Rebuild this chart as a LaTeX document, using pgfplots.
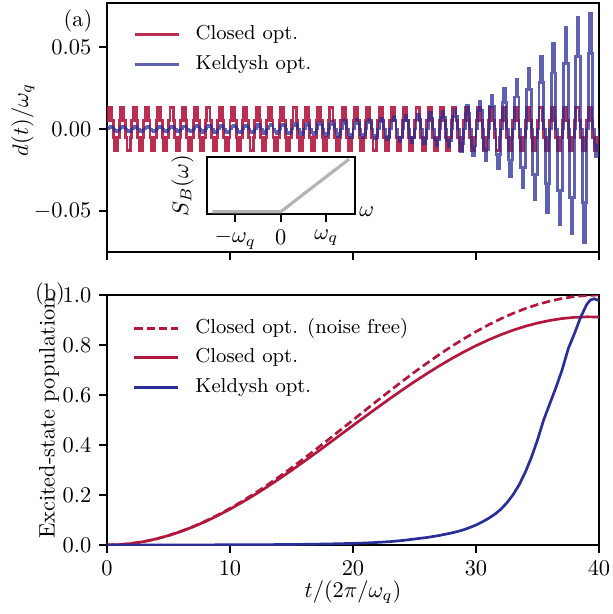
\documentclass[border=0pt]{standalone}
\usepackage{pgfplots}
\pgfplotsset{compat=1.18}
\definecolor{cred}{RGB}{178,24,62}
\definecolor{cblue}{RGB}{42,46,150}
\definecolor{cgray}{RGB}{180,180,180}
\pgfplotsset{
 mystyle/.style={
  scale only axis,
  axis line style={line width=0.8pt},
  tick align=outside,
  tick pos=left,
  major tick length=3.5pt,
  tick style={black, line width=0.8pt},
 },
 mylegend/.style={
  legend cell align=left,
  legend image code/.code={\draw[##1] (0pt,0pt) -- (19.6pt,0pt);},
  legend style={at={(axis description cs:0.0386,#1)}, anchor=north west, draw=none, fill=none,
    font=\fontsize{9}{11}\selectfont, row sep=4.7pt,
    nodes={inner sep=0pt, text height=6.5pt, text depth=2pt},
    /tikz/every odd column/.append style={column sep=7pt}},
 },
}
\begin{document}
\begin{tikzpicture}
\useasboundingbox (0,0) rectangle (273.64pt,-274.09pt);
% ---------------- panel (a)
\begin{axis}[mystyle, mylegend=0.93, at={(47.76pt,-112.49pt)}, anchor=south west,
  width=219.63pt, height=111.15pt, xmin=0, xmax=40, ymin=-0.075, ymax=0.0768,
  xtick={0,10,20,30,40}, xticklabels={},
  ytick={-0.05,0,0.05}, yticklabels={$-0.05$,$0.00$,$0.05$},
  ylabel={$d(t)/\omega_q$}, ylabel style={at={(axis description cs:-0.171,0.53)}, anchor=center}]
\addplot[const plot mark left, cred, line width=1.3pt, opacity=0.9] coordinates {
(0,0.0054)(0.125,0.0129)(0.25,0.0129)(0.375,0.0054)(0.5,-0.0054)(0.625,-0.0129)(0.75,-0.0129)(0.875,-0.0054)
(1,0.0054)(1.125,0.0129)(1.25,0.0129)(1.375,0.0054)(1.5,-0.0054)(1.625,-0.0129)(1.75,-0.0129)(1.875,-0.0054)
(2,0.0054)(2.125,0.0129)(2.25,0.0129)(2.375,0.0054)(2.5,-0.0054)(2.625,-0.0129)(2.75,-0.0129)(2.875,-0.0054)
(3,0.0054)(3.125,0.0129)(3.25,0.0129)(3.375,0.0054)(3.5,-0.0054)(3.625,-0.0129)(3.75,-0.0129)(3.875,-0.0054)
(4,0.0054)(4.125,0.0129)(4.25,0.0129)(4.375,0.0054)(4.5,-0.0054)(4.625,-0.0129)(4.75,-0.0129)(4.875,-0.0054)
(5,0.0054)(5.125,0.0129)(5.25,0.0129)(5.375,0.0054)(5.5,-0.0054)(5.625,-0.0129)(5.75,-0.0129)(5.875,-0.0054)
(6,0.0054)(6.125,0.0129)(6.25,0.0129)(6.375,0.0054)(6.5,-0.0054)(6.625,-0.0129)(6.75,-0.0129)(6.875,-0.0054)
(7,0.0054)(7.125,0.0129)(7.25,0.0129)(7.375,0.0054)(7.5,-0.0054)(7.625,-0.0129)(7.75,-0.0129)(7.875,-0.0054)
(8,0.0054)(8.125,0.0129)(8.25,0.0129)(8.375,0.0054)(8.5,-0.0054)(8.625,-0.0129)(8.75,-0.0129)(8.875,-0.0054)
(9,0.0054)(9.125,0.0129)(9.25,0.0129)(9.375,0.0054)(9.5,-0.0054)(9.625,-0.0129)(9.75,-0.0129)(9.875,-0.0054)
(10,0.0054)(10.125,0.0129)(10.25,0.0129)(10.375,0.0054)(10.5,-0.0054)(10.625,-0.0129)(10.75,-0.0129)(10.875,-0.0054)
(11,0.0054)(11.125,0.0129)(11.25,0.0129)(11.375,0.0054)(11.5,-0.0054)(11.625,-0.0129)(11.75,-0.0129)(11.875,-0.0054)
(12,0.0054)(12.125,0.0129)(12.25,0.0129)(12.375,0.0054)(12.5,-0.0054)(12.625,-0.0129)(12.75,-0.0129)(12.875,-0.0054)
(13,0.0054)(13.125,0.0129)(13.25,0.0129)(13.375,0.0054)(13.5,-0.0054)(13.625,-0.0129)(13.75,-0.0129)(13.875,-0.0054)
(14,0.0054)(14.125,0.0129)(14.25,0.0129)(14.375,0.0054)(14.5,-0.0054)(14.625,-0.0129)(14.75,-0.0129)(14.875,-0.0054)
(15,0.0054)(15.125,0.0129)(15.25,0.0129)(15.375,0.0054)(15.5,-0.0054)(15.625,-0.0129)(15.75,-0.0129)(15.875,-0.0054)
(16,0.0054)(16.125,0.0129)(16.25,0.0129)(16.375,0.0054)(16.5,-0.0054)(16.625,-0.0129)(16.75,-0.0129)(16.875,-0.0054)
(17,0.0054)(17.125,0.0129)(17.25,0.0129)(17.375,0.0054)(17.5,-0.0054)(17.625,-0.0129)(17.75,-0.0129)(17.875,-0.0054)
(18,0.0054)(18.125,0.0129)(18.25,0.0129)(18.375,0.0054)(18.5,-0.0054)(18.625,-0.0129)(18.75,-0.0129)(18.875,-0.0054)
(19,0.0054)(19.125,0.0129)(19.25,0.0129)(19.375,0.0054)(19.5,-0.0054)(19.625,-0.0129)(19.75,-0.0129)(19.875,-0.0054)
(20,0.0054)(20.125,0.0129)(20.25,0.0129)(20.375,0.0054)(20.5,-0.0054)(20.625,-0.0129)(20.75,-0.0129)(20.875,-0.0054)
(21,0.0054)(21.125,0.0129)(21.25,0.0129)(21.375,0.0054)(21.5,-0.0054)(21.625,-0.0129)(21.75,-0.0129)(21.875,-0.0054)
(22,0.0054)(22.125,0.0129)(22.25,0.0129)(22.375,0.0054)(22.5,-0.0054)(22.625,-0.0129)(22.75,-0.0129)(22.875,-0.0054)
(23,0.0054)(23.125,0.0129)(23.25,0.0129)(23.375,0.0054)(23.5,-0.0054)(23.625,-0.0129)(23.75,-0.0129)(23.875,-0.0054)
(24,0.0054)(24.125,0.0129)(24.25,0.0129)(24.375,0.0054)(24.5,-0.0054)(24.625,-0.0129)(24.75,-0.0129)(24.875,-0.0054)
(25,0.0054)(25.125,0.0129)(25.25,0.0129)(25.375,0.0054)(25.5,-0.0054)(25.625,-0.0129)(25.75,-0.0129)(25.875,-0.0054)
(26,0.0054)(26.125,0.0129)(26.25,0.0129)(26.375,0.0054)(26.5,-0.0054)(26.625,-0.0129)(26.75,-0.0129)(26.875,-0.0054)
(27,0.0054)(27.125,0.0129)(27.25,0.0129)(27.375,0.0054)(27.5,-0.0054)(27.625,-0.0129)(27.75,-0.0129)(27.875,-0.0054)
(28,0.0054)(28.125,0.0129)(28.25,0.0129)(28.375,0.0054)(28.5,-0.0054)(28.625,-0.0129)(28.75,-0.0129)(28.875,-0.0054)
(29,0.0054)(29.125,0.0129)(29.25,0.0129)(29.375,0.0054)(29.5,-0.0054)(29.625,-0.0129)(29.75,-0.0129)(29.875,-0.0054)
(30,0.0054)(30.125,0.0129)(30.25,0.0129)(30.375,0.0054)(30.5,-0.0054)(30.625,-0.0129)(30.75,-0.0129)(30.875,-0.0054)
(31,0.0054)(31.125,0.0129)(31.25,0.0129)(31.375,0.0054)(31.5,-0.0054)(31.625,-0.0129)(31.75,-0.0129)(31.875,-0.0054)
(32,0.0054)(32.125,0.0129)(32.25,0.0129)(32.375,0.0054)(32.5,-0.0054)(32.625,-0.0129)(32.75,-0.0129)(32.875,-0.0054)
(33,0.0054)(33.125,0.0129)(33.25,0.0129)(33.375,0.0054)(33.5,-0.0054)(33.625,-0.0129)(33.75,-0.0129)(33.875,-0.0054)
(34,0.0054)(34.125,0.0129)(34.25,0.0129)(34.375,0.0054)(34.5,-0.0054)(34.625,-0.0129)(34.75,-0.0129)(34.875,-0.0054)
(35,0.0054)(35.125,0.0129)(35.25,0.0129)(35.375,0.0054)(35.5,-0.0054)(35.625,-0.0129)(35.75,-0.0129)(35.875,-0.0054)
(36,0.0054)(36.125,0.0129)(36.25,0.0129)(36.375,0.0054)(36.5,-0.0054)(36.625,-0.0129)(36.75,-0.0129)(36.875,-0.0054)
(37,0.0054)(37.125,0.0129)(37.25,0.0129)(37.375,0.0054)(37.5,-0.0054)(37.625,-0.0129)(37.75,-0.0129)(37.875,-0.0054)
(38,0.0054)(38.125,0.0129)(38.25,0.0129)(38.375,0.0054)(38.5,-0.0054)(38.625,-0.0129)(38.75,-0.0129)(38.875,-0.0054)
(39,0.0054)(39.125,0.0129)(39.25,0.0129)(39.375,0.0054)(39.5,-0.0054)(39.625,-0.0129)(39.75,-0.0129)(39.875,-0.0054)
(40,0)};
\addlegendentry{Closed opt.}
\addplot[const plot mark left, cblue, line width=1.3pt, opacity=0.75] coordinates {
(0,0)(0.125,0.0010)(0.25,0.0015)(0.375,0.0010)(0.5,0)(0.625,-0.0010)(0.75,-0.0015)(0.875,-0.0010)
(1,0)(1.125,0.0010)(1.25,0.0015)(1.375,0.0010)(1.5,0)(1.625,-0.0010)(1.75,-0.0015)(1.875,-0.0010)
(2,0)(2.125,0.0010)(2.25,0.0015)(2.375,0.0010)(2.5,0)(2.625,-0.0010)(2.75,-0.0015)(2.875,-0.0010)
(3,0)(3.125,0.0010)(3.25,0.0016)(3.375,0.0010)(3.5,0)(3.625,-0.0010)(3.75,-0.0016)(3.875,-0.0010)
(4,0)(4.125,0.0010)(4.25,0.0016)(4.375,0.0010)(4.5,0)(4.625,-0.0010)(4.75,-0.0016)(4.875,-0.0010)
(5,0)(5.125,0.0011)(5.25,0.0017)(5.375,0.0011)(5.5,0)(5.625,-0.0011)(5.75,-0.0017)(5.875,-0.0011)
(6,0)(6.125,0.0012)(6.25,0.0018)(6.375,0.0012)(6.5,0)(6.625,-0.0012)(6.75,-0.0018)(6.875,-0.0012)
(7,0)(7.125,0.0012)(7.25,0.0019)(7.375,0.0012)(7.5,0)(7.625,-0.0012)(7.75,-0.0019)(7.875,-0.0012)
(8,0)(8.125,0.0013)(8.25,0.0020)(8.375,0.0013)(8.5,0)(8.625,-0.0013)(8.75,-0.0020)(8.875,-0.0013)
(9,0)(9.125,0.0014)(9.25,0.0021)(9.375,0.0014)(9.5,0)(9.625,-0.0014)(9.75,-0.0021)(9.875,-0.0014)
(10,0)(10.125,0.0014)(10.25,0.0022)(10.375,0.0014)(10.5,0)(10.625,-0.0014)(10.75,-0.0022)(10.875,-0.0014)
(11,0)(11.125,0.0016)(11.25,0.0024)(11.375,0.0016)(11.5,0)(11.625,-0.0016)(11.75,-0.0024)(11.875,-0.0016)
(12,0)(12.125,0.0017)(12.25,0.0026)(12.375,0.0017)(12.5,0)(12.625,-0.0017)(12.75,-0.0026)(12.875,-0.0017)
(13,0)(13.125,0.0018)(13.25,0.0028)(13.375,0.0018)(13.5,0)(13.625,-0.0018)(13.75,-0.0028)(13.875,-0.0018)
(14,0)(14.125,0.0020)(14.25,0.0030)(14.375,0.0020)(14.5,0)(14.625,-0.0020)(14.75,-0.0030)(14.875,-0.0020)
(15,0)(15.125,0.0021)(15.25,0.0033)(15.375,0.0021)(15.5,0)(15.625,-0.0021)(15.75,-0.0033)(15.875,-0.0021)
(16,0)(16.125,0.0023)(16.25,0.0036)(16.375,0.0023)(16.5,0)(16.625,-0.0023)(16.75,-0.0036)(16.875,-0.0023)
(17,0)(17.125,0.0026)(17.25,0.0040)(17.375,0.0026)(17.5,0)(17.625,-0.0026)(17.75,-0.0040)(17.875,-0.0026)
(18,0)(18.125,0.0029)(18.25,0.0045)(18.375,0.0029)(18.5,0)(18.625,-0.0029)(18.75,-0.0045)(18.875,-0.0029)
(19,0)(19.125,0.0033)(19.25,0.0050)(19.375,0.0033)(19.5,0)(19.625,-0.0033)(19.75,-0.0050)(19.875,-0.0033)
(20,0)(20.125,0.0036)(20.25,0.0055)(20.375,0.0036)(20.5,0)(20.625,-0.0036)(20.75,-0.0055)(20.875,-0.0036)
(21,0)(21.125,0.0039)(21.25,0.0060)(21.375,0.0039)(21.5,0)(21.625,-0.0039)(21.75,-0.0060)(21.875,-0.0039)
(22,0)(22.125,0.0044)(22.25,0.0067)(22.375,0.0044)(22.5,0)(22.625,-0.0044)(22.75,-0.0067)(22.875,-0.0044)
(23,0)(23.125,0.0049)(23.25,0.0075)(23.375,0.0049)(23.5,0)(23.625,-0.0049)(23.75,-0.0075)(23.875,-0.0049)
(24,0)(24.125,0.0054)(24.25,0.0083)(24.375,0.0054)(24.5,0)(24.625,-0.0054)(24.75,-0.0083)(24.875,-0.0054)
(25,0)(25.125,0.0059)(25.25,0.0090)(25.375,0.0059)(25.5,0)(25.625,-0.0059)(25.75,-0.0090)(25.875,-0.0059)
(26,0)(26.125,0.0064)(26.25,0.0098)(26.375,0.0064)(26.5,0)(26.625,-0.0064)(26.75,-0.0098)(26.875,-0.0064)
(27,0)(27.125,0.0070)(27.25,0.0108)(27.375,0.0070)(27.5,0)(27.625,-0.0070)(27.75,-0.0108)(27.875,-0.0070)
(28,0)(28.125,0.0078)(28.25,0.0120)(28.375,0.0078)(28.5,0)(28.625,-0.0088)(28.75,-0.0135)(28.875,-0.0088)
(29,0)(29.125,0.0095)(29.25,0.0146)(29.375,0.0095)(29.5,0)(29.625,-0.0104)(29.75,-0.0160)(29.875,-0.0104)
(30,0)(30.125,0.0111)(30.25,0.0170)(30.375,0.0111)(30.5,0)(30.625,-0.0124)(30.75,-0.0190)(30.875,-0.0124)
(31,0)(31.125,0.0135)(31.25,0.0207)(31.375,0.0135)(31.5,0)(31.625,-0.0156)(31.75,-0.0240)(31.875,-0.0156)
(32,0)(32.125,0.0163)(32.25,0.0250)(32.375,0.0163)(32.5,0)(32.625,-0.0189)(32.75,-0.0290)(32.875,-0.0189)
(33,0)(33.125,0.0195)(33.25,0.0300)(33.375,0.0195)(33.5,0)(33.625,-0.0234)(33.75,-0.0360)(33.875,-0.0234)
(34,0)(34.125,0.0238)(34.25,0.0366)(34.375,0.0238)(34.5,0)(34.625,-0.0280)(34.75,-0.0430)(34.875,-0.0280)
(35,0)(35.125,0.0286)(35.25,0.0440)(35.375,0.0286)(35.5,0)(35.625,-0.0332)(35.75,-0.0510)(35.875,-0.0332)
(36,0)(36.125,0.0341)(36.25,0.0524)(36.375,0.0341)(36.5,0)(36.625,-0.0377)(36.75,-0.0580)(36.875,-0.0377)
(37,0)(37.125,0.0400)(37.25,0.0616)(37.375,0.0400)(37.5,0)(37.625,-0.0416)(37.75,-0.0640)(37.875,-0.0416)
(38,0)(38.125,0.0442)(38.25,0.0680)(38.375,0.0442)(38.5,0)(38.625,-0.0449)(38.75,-0.0690)(38.875,-0.0449)
(39,0)(39.125,0.0460)(39.25,0.0707)(39.375,0.0460)(39.5,0)(39.625,-0.0100)(39.75,-0.0170)(39.875,-0.0100)
(40,0)};
\addlegendentry{Keldysh opt.}
\end{axis}
% ---------------- inset
\begin{axis}[mystyle, at={(92.4pt,-95.53pt)}, anchor=south west,
  width=66.07pt, height=25.44pt, xmin=-1.62, xmax=1.63, ymin=-0.065, ymax=1.56,
  xtick={-1,0,1}, xticklabels={$-\omega_q$,$0$,$\omega_q$}, ytick=\empty,
  axis background/.style={fill=white},
  ylabel={$S_B(\omega)$}, ylabel style={at={(axis description cs:-0.166,0.5)}, anchor=center},
  xlabel={$\omega$}, xlabel style={at={(axis description cs:1.08,0.035)}, anchor=center}]
\addplot[cgray, line width=1.4pt] coordinates {(-1.5,0) (0,0) (1.5,1.5)};
\end{axis}
% ---------------- panel (b)
\begin{axis}[mystyle, mylegend=0.925, at={(47.76pt,-243.29pt)}, anchor=south west,
  width=219.63pt, height=111.6pt, xmin=0, xmax=40, ymin=0, ymax=1,
  xtick={0,10,20,30,40},
  ytick={0,0.2,0.4,0.6,0.8,1.0}, yticklabels={$0.0$,$0.2$,$0.4$,$0.6$,$0.8$,$1.0$},
  xlabel={$t/(2\pi/\omega_q)$}, xlabel style={at={(axis description cs:0.5,-0.188)}, anchor=center},
  ylabel={Excited-state population}, ylabel style={at={(axis description cs:-0.118,0.508)}, anchor=center}]
\addplot[cred, line width=1.2pt, dash pattern=on 3.7pt off 1.8pt] coordinates {
(0,0)(1,0.00154)(2,0.00616)(3,0.01382)(4,0.02447)(5,0.03806)(6,0.0545)(7,0.07368)(8,0.09549)(9,0.1198)
(10,0.14645)(11,0.17528)(12,0.2061)(13,0.23875)(14,0.273)(15,0.30866)(16,0.34549)(17,0.38327)(18,0.42178)(19,0.46077)
(20,0.5)(21,0.53923)(22,0.57822)(23,0.61673)(24,0.65451)(25,0.69134)(26,0.727)(27,0.76125)(28,0.7939)(29,0.82472)
(30,0.85355)(31,0.8802)(32,0.90451)(33,0.92632)(34,0.9455)(35,0.96194)(36,0.97553)(37,0.98618)(38,0.99384)(39,0.99846)(40,1.0)};
\addlegendentry{Closed opt. (noise free)}
\addplot[cred, line width=1.2pt] coordinates {
(0,0)(1,0.00154)(2,0.00613)(3,0.01373)(4,0.02425)(5,0.03764)(6,0.05378)(7,0.07255)(8,0.09381)(9,0.11743)
(10,0.14323)(11,0.17104)(12,0.20066)(13,0.23192)(14,0.26459)(15,0.29847)(16,0.33333)(17,0.36894)(18,0.40508)(19,0.44151)
(20,0.478)(21,0.51432)(22,0.55023)(23,0.58552)(24,0.61995)(25,0.65332)(26,0.68542)(27,0.71603)(28,0.745)(29,0.7721)
(30,0.79722)(31,0.82017)(32,0.84083)(33,0.85907)(34,0.87477)(35,0.88787)(36,0.89827)(37,0.90591)(38,0.91076)(39,0.91279)(40,0.912)};
\addlegendentry{Closed opt.}
\addplot[cblue, line width=1.2pt] coordinates {
(0,0)(5,0.0003)(10,0.0008)(12,0.0012)(14,0.0018)(16,0.0027)(18,0.0042)(20,0.0065)(21,0.008)(22,0.0105)
(23,0.0135)(24,0.018)(25,0.024)(26,0.03)(27,0.038)(28,0.048)(28.5,0.054)(29,0.061)(29.5,0.07)(30,0.08)
(30.5,0.092)(31,0.106)(31.5,0.122)(32,0.142)(32.5,0.168)(33,0.2)(33.5,0.24)(34,0.29)(34.5,0.35)(35,0.42)
(35.5,0.5)(36,0.565)(36.5,0.63)(37,0.7)(37.5,0.785)(38,0.845)(38.5,0.91)(39,0.962)(39.3,0.98)(39.6,0.985)(40,0.978)};
\addlegendentry{Keldysh opt.}
\end{axis}
\node at (34.82pt,-9.37pt) {(a)};
\node at (22.32pt,-131.24pt) {(b)};
\end{tikzpicture}
\end{document}
